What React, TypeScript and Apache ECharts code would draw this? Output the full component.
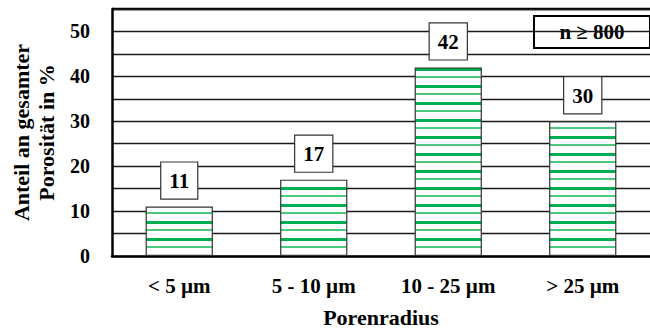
import React, { useEffect, useRef } from "react";
import * as echarts from "echarts";

const categories = ["< 5 µm", "5 - 10 µm", "10 - 25 µm", "> 25 µm"];
const shares = [11, 17, 42, 30];
const sampleNote = "n ≥ 800";
const yTitle = "Anteil an gesamter\nPorosität in %";
const xTitle = "Porenradius";

const FONT = "'Liberation Serif', 'Times New Roman', serif";

// Horizontal green hatching: alternating thick and thin lines
function makeHatch(): HTMLCanvasElement {
  const c = document.createElement("canvas");
  c.width = 8;
  c.height = 17;
  const ctx = c.getContext("2d")!;
  ctx.fillStyle = "#ffffff";
  ctx.fillRect(0, 0, 8, 17);
  ctx.fillStyle = "#00b050";
  ctx.fillRect(0, 0, 8, 3);
  ctx.fillStyle = "#4cc97f";
  ctx.fillRect(0, 8, 8, 2);
  return c;
}

export default function App() {
  const ref = useRef<HTMLDivElement>(null);
  useEffect(() => {
    document.body.style.margin = "0";
    if (!ref.current) return;
    const chart = echarts.init(ref.current, null, { renderer: "svg" });
    chart.setOption({
      animation: false,
      textStyle: { fontFamily: FONT },
      grid: {
        left: 112,
        right: 0,
        top: 9,
        bottom: 75,
        containLabel: false,
        outerBoundsMode: "none",
      },
      xAxis: {
        type: "category",
        data: categories,
        axisLine: { lineStyle: { color: "#000", width: 2.5 } },
        axisTick: { show: false },
        axisLabel: {
          color: "#000",
          fontFamily: FONT,
          fontWeight: "bold",
          fontSize: 21,
          margin: 19,
        },
        name: xTitle,
        nameLocation: "middle",
        nameGap: 50,
        nameTextStyle: { color: "#000", fontFamily: FONT, fontWeight: "bold", fontSize: 22 },
      },
      yAxis: {
        type: "value",
        min: 0,
        max: 55,
        interval: 5,
        axisLine: { show: true, lineStyle: { color: "#000", width: 2.5 } },
        axisTick: { show: false },
        axisLabel: {
          color: "#000",
          fontFamily: FONT,
          fontWeight: "bold",
          fontSize: 20,
          margin: 22,
          formatter: (v: number) => (v % 10 === 0 && v < 55 ? String(v) : ""),
        },
        splitLine: { show: true, lineStyle: { color: "#1a1a1a", width: 1.4 } },
        name: yTitle,
        nameLocation: "middle",
        nameRotate: 90,
        nameGap: 48,
        nameTextStyle: {
          color: "#000",
          fontFamily: FONT,
          fontWeight: "bold",
          fontSize: 22,
          lineHeight: 25,
        },
      },
      graphic: [
        {
          type: "line",
          shape: { x1: 112, y1: 9, x2: 650, y2: 9 },
          style: { stroke: "#000", lineWidth: 2.5 },
        },
        {
          type: "group",
          left: 533,
          top: 15,
          children: [
            {
              type: "rect",
              shape: { x: 0, y: 0, width: 116, height: 32 },
              style: { fill: "#fff", stroke: "#000", lineWidth: 2 },
            },
            {
              type: "text",
              x: 58,
              y: 16,
              style: {
                text: sampleNote,
                align: "center",
                verticalAlign: "middle",
                font: `bold 21px ${FONT}`,
                fill: "#000",
              },
            },
          ],
        },
      ],
      series: [
        {
          type: "bar",
          data: shares,
          barWidth: "50%",
          itemStyle: {
            color: { image: makeHatch(), repeat: "repeat" },
            borderColor: "#333",
            borderWidth: 1.2,
          },
          label: {
            show: true,
            position: "top",
            distance: 8,
            color: "#000",
            fontFamily: FONT,
            fontWeight: "bold",
            fontSize: 21,
            lineHeight: 21,
            backgroundColor: "#fff",
            borderColor: "#333",
            borderWidth: 1.2,
            padding: [8, 8, 7, 8],
          },
        },
      ],
    });
    return () => chart.dispose();
  }, []);
  return <div ref={ref} style={{ width: 650, height: 331 }} />;
}
